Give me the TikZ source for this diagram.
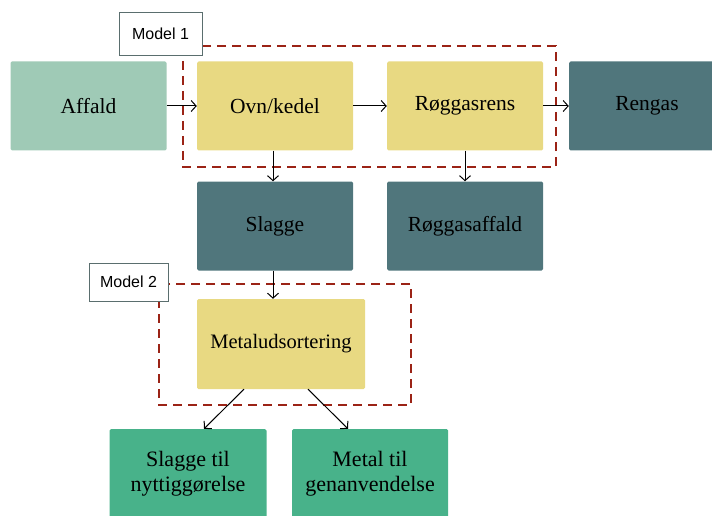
\documentclass[tikz,border=0pt]{standalone}
\usepackage{fontspec}
\setmainfont{Liberation Serif}
\newfontfamily\labelfont{Liberation Sans}
\usetikzlibrary{arrows}
\usetikzlibrary{arrows.meta}
\definecolor{lightgreen}{HTML}{9FCAB6}
\definecolor{sand}{HTML}{E8D982}
\definecolor{slate}{HTML}{50767C}
\definecolor{jade}{HTML}{48B28A}
\definecolor{rust}{HTML}{9B2316}
\definecolor{frame}{HTML}{5A6E6E}

\begin{document}
\begin{tikzpicture}[x=1pt, y=-1pt,
	box/.style={rounded corners=1.5pt, inner sep=0pt, minimum width=156pt, minimum height=89pt, align=center, font=\fontsize{21.5}{25}\selectfont},
	tag/.style={draw=frame, fill=white, line width=0.8pt, inner sep=0pt, font=\labelfont\fontsize{16}{18}\selectfont},
	flow/.style={-{Straight Barb[length=5pt, width=11pt]}, line width=1pt},
	zone/.style={draw=rust, line width=1.3pt, dash pattern=on 9pt off 6pt}]
	\clip (0,0) rectangle (712,516);
	\node[box, fill=lightgreen] (affald) at (88.5, 106) {Affald};
	\node[box, fill=sand] (ovn) at (275, 106) {Ovn/kedel};
	\node[box, fill=sand] (rens) at (465, 106) {Røggasrens};
	\node[box, fill=slate] (rengas) at (647, 106) {Rengas};
	\node[box, fill=slate] (slagge) at (275, 226) {Slagge};
	\node[box, fill=slate] (rest) at (465, 226) {Røggasaffald};
	\node[box, fill=sand, minimum width=168pt, minimum height=90pt, font=\fontsize{20.5}{24}\selectfont] (sort) at (281, 344) {Metaludsortering};
	\node[box, fill=jade, minimum width=157pt, font=\fontsize{22}{25}\selectfont] (nytte) at (188, 473.5) {Slagge til\\nyttiggørelse};
	\node[box, fill=jade, font=\fontsize{22}{25}\selectfont] (genbrug) at (370, 473.5) {Metal til\\genanvendelse};
	\draw[zone] (183, 46) rectangle (556, 167);
	\draw[zone] (159, 284) rectangle (411, 405);
	\node[tag, minimum width=83pt, minimum height=43pt] (model1) at (160.5, 33.5) {Model 1};
	\node[tag, minimum width=79pt, minimum height=38pt] (model2) at (128.5, 282) {Model 2};
	\draw[flow] (affald.east) -- (ovn.west);
	\draw[flow] (ovn.east) -- (rens.west);
	\draw[flow] (rens.east) -- (rengas.west);
	\draw[flow] ([xshift=-2pt]ovn.south) -- ([xshift=-2pt]slagge.north);
	\draw[flow] (rens.south) -- (rest.north);
	\draw[flow] ([xshift=-2pt]slagge.south) -- ([xshift=-8pt]sort.north);
	\draw[flow] ([xshift=-37pt]sort.south) -- ([xshift=16pt]nytte.north);
	\draw[flow] ([xshift=27pt]sort.south) -- ([xshift=-22pt]genbrug.north);
\end{tikzpicture}
\end{document}
